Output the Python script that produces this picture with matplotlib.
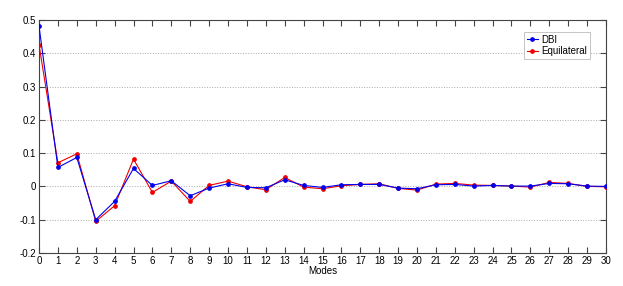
import numpy as np
from matplotlib import pyplot as plt

modes = list(range(31))
dbi = [0.482, 0.057, 0.087, -0.100, -0.045, 0.054, 0.003, 0.017, -0.028, -0.005,
       0.008, -0.003, -0.004, 0.020, 0.003, -0.003, 0.005, 0.006, 0.006, -0.005,
       -0.007, 0.005, 0.006, 0.001, 0.003, 0.001, 0.001, 0.009, 0.008, 0.001, 0.000]
equilateral = [0.426, 0.071, 0.098, -0.105, -0.058, 0.082, -0.018, 0.016, -0.045, 0.003,
               0.016, -0.001, -0.010, 0.027, -0.002, -0.007, 0.002, 0.006, 0.008, -0.006,
               -0.011, 0.007, 0.009, 0.004, 0.003, 0.001, -0.002, 0.012, 0.009, 0.000, -0.001]

plt.rcParams['font.family'] = ['Liberation Sans', 'DejaVu Sans']
fig = plt.figure(figsize=(6.23, 2.86), dpi=100)
ax = fig.add_axes([39 / 623, 1 - 253 / 286, (606 - 39) / 623, (253 - 20) / 286])

ax.plot(modes, dbi, color='#0000ee', marker='o', markersize=2.4, linewidth=0.8,
        label='DBI', zorder=4)
ax.plot(modes, equilateral, color='#ee0000', marker='o', markersize=2.4, linewidth=0.8,
        label='Equilateral', zorder=3)

ax.set_xlim(0, 30)
ax.set_ylim(-0.2, 0.5)
ax.set_xticks(range(0, 31))
yt = [-0.2, -0.1, 0, 0.1, 0.2, 0.3, 0.4, 0.5]
ax.set_yticks(yt)
ax.set_yticklabels(['-0.2', '-0.1', '0', '0.1', '0.2', '0.3', '0.4', '0.5'])
ax.yaxis.grid(True, linestyle=':', color='#aaaaaa', linewidth=0.7)
ax.tick_params(direction='in', top=True, right=True, length=4, labelsize=7,
               color='#444444', pad=2)
for s in ax.spines.values():
    s.set_color('#444444')
    s.set_linewidth(0.8)
ax.set_xlabel('Modes', fontsize=7, labelpad=0)

leg = ax.legend(loc='upper right', bbox_to_anchor=(0.98, 0.97), fontsize=7,
                handlelength=1.2, handletextpad=0.3, borderpad=0.3, labelspacing=0.15,
                fancybox=False, framealpha=1, edgecolor='#bbbbbb')
leg.get_frame().set_linewidth(0.6)

fig.savefig('out.png', dpi=100)
